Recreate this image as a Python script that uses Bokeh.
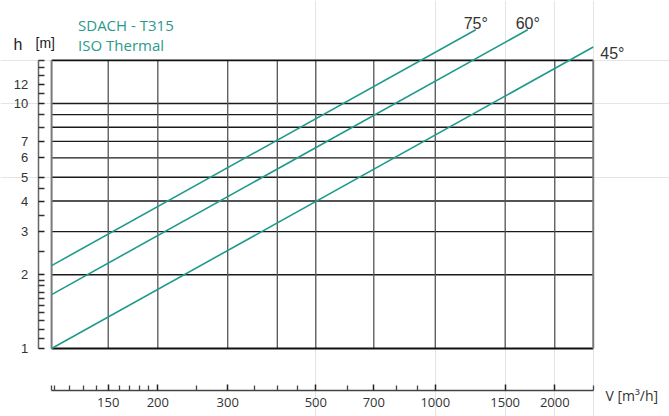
from bokeh.plotting import figure
from bokeh.models import Range1d, FixedTicker, PrintfTickFormatter, Label, LogAxis
from bokeh.embed import file_html
from bokeh.resources import INLINE
from bokeh.core.properties import value

# ---- data ----
V_MIN, V_MAX = 108, 2500
H_MIN, H_MAX = 1, 15
V_GRID = [150, 200, 300, 400, 500, 700, 1000, 1500, 2000]
H_GRID = [2, 3, 4, 5, 6, 7, 8, 9, 10]
X_TICKS = [150, 200, 300, 500, 700, 1000, 1500, 2000]
X_MINOR = [108, 110, 120, 130, 140, 160, 170, 180, 190, 250, 350, 400, 450,
           600, 800, 900, 2500]
Y_TICKS = [1, 2, 3, 4, 5, 6, 7, 10, 12]
Y_MINOR = [1.1, 1.2, 1.3, 1.4, 1.5, 1.6, 1.7, 1.8, 1.9, 2.5, 3.5, 4.5, 8, 9,
           11, 13, 14, 15]
SERIES = ["75°", "60°", "45°"]
V_START = [108, 108, 108]
H_START = [2.18, 1.66, 1.0]
V_END = [1265, 1710, 2500]
H_END = [20.0, 20.0, 17.0]

X_AXIS_AT = 0.674   # h value where the detached V axis is drawn
Y_AXIS_AT = 100     # V value where the detached h axis is drawn

TEAL = "#1f9a8c"
TEAL_TEXT = "#2a9a8c"

p = figure(width=669, height=416, x_axis_type="log", y_axis_type="log",
           x_axis_location=None, y_axis_location=None,
           x_range=Range1d(80.3, 3891), y_range=Range1d(0.5278, 26.33),
           output_backend="svg", toolbar_location=None,
           min_border_left=0, min_border_right=0, min_border_top=0,
           min_border_bottom=0)
p.outline_line_color = None
p.background_fill_color = "white"
p.border_fill_color = "white"

xa = LogAxis(fixed_location=X_AXIS_AT, bounds=(V_MIN, V_MAX),
             ticker=FixedTicker(ticks=X_TICKS, minor_ticks=X_MINOR),
             formatter=PrintfTickFormatter(format="%d"))
xa.major_tick_in = 6
xa.major_tick_out = 0
xa.minor_tick_in = 5
xa.minor_tick_out = 0
xa.axis_line_color = "#444444"
xa.axis_line_width = 1.5
xa.major_tick_line_color = "#222222"
xa.major_tick_line_width = 1.5
xa.minor_tick_line_color = "#444444"
xa.minor_tick_line_width = 1.3
xa.major_label_text_font = "Open Sans"
xa.major_label_text_font_size = "13px"
xa.major_label_text_color = "#333333"
xa.major_label_standoff = 8
p.add_layout(xa, "below")

ya = LogAxis(fixed_location=Y_AXIS_AT, bounds=(H_MIN, H_MAX),
             ticker=FixedTicker(ticks=Y_TICKS, minor_ticks=Y_MINOR),
             formatter=PrintfTickFormatter(format="%d"))
ya.major_tick_in = 6
ya.major_tick_out = 0
ya.minor_tick_in = 6
ya.minor_tick_out = 0
ya.axis_line_color = "#666666"
ya.axis_line_width = 1.5
ya.major_tick_line_color = "#222222"
ya.major_tick_line_width = 1.3
ya.minor_tick_line_color = "#333333"
ya.minor_tick_line_width = 1.3
ya.major_label_text_font = "Liberation Sans"
ya.major_label_text_font_size = "13px"
ya.major_label_text_color = "#333333"
ya.major_label_standoff = 10
p.add_layout(ya, "left")

# grid box
p.segment(x0=[V_MIN] * len(H_GRID), y0=H_GRID, x1=[V_MAX] * len(H_GRID), y1=H_GRID,
          line_color="#1a1a1a", line_width=1.3)
p.segment(x0=V_GRID, y0=[H_MIN] * len(V_GRID), x1=V_GRID, y1=[H_MAX] * len(V_GRID),
          line_color="#555555", line_width=1.3)
p.segment(x0=[V_MIN, V_MIN], y0=[H_MIN, H_MAX], x1=[V_MAX, V_MAX], y1=[H_MIN, H_MAX],
          line_color="#111111", line_width=1.8)
p.segment(x0=[V_MIN, V_MAX], y0=[H_MIN, H_MIN], x1=[V_MIN, V_MAX], y1=[H_MAX, H_MAX],
          line_color="#7a7a7a", line_width=2)

# characteristic lines
p.segment(x0=V_START, y0=H_START, x1=V_END, y1=H_END, line_color=TEAL, line_width=1.6)

p.text(x=V_END[:2], y=H_END[:2], text=SERIES[:2], y_offset=-6,
       text_align="center", text_baseline="alphabetic",
       text_font=value("Liberation Sans"), text_font_size="16px", text_color="#333333")
p.text(x=V_END[2:], y=H_END[2:], text=SERIES[2:], x_offset=7, y_offset=6,
       text_align="left", text_baseline="alphabetic",
       text_font=value("Liberation Sans"), text_font_size="16px", text_color="#333333")

# titles and axis names
p.add_layout(Label(x=125.9, y=21.0, text="SDACH - T315", text_font="Open Sans",
                   text_font_size="15px", text_color=TEAL_TEXT, text_baseline="alphabetic"))
p.add_layout(Label(x=125.9, y=17.41, text="ISO Thermal", text_font="Open Sans",
                   text_font_size="15px", text_color=TEAL_TEXT, text_baseline="alphabetic"))
p.add_layout(Label(x=86.6, y=17.41, text="h", text_font="Liberation Sans",
                   text_font_size="16px", text_color="#222222", text_baseline="alphabetic"))
p.add_layout(Label(x=98.4, y=17.58, text="[m]", text_font="Liberation Sans",
                   text_font_size="14px", text_color="#222222", text_baseline="alphabetic"))
p.add_layout(Label(x=2683, y=0.643, text="V [m³/h]", text_font="Open Sans",
                   text_font_size="14px", text_color="#333333", text_baseline="alphabetic"))

open("out.html", "w").write(file_html(p, INLINE))
